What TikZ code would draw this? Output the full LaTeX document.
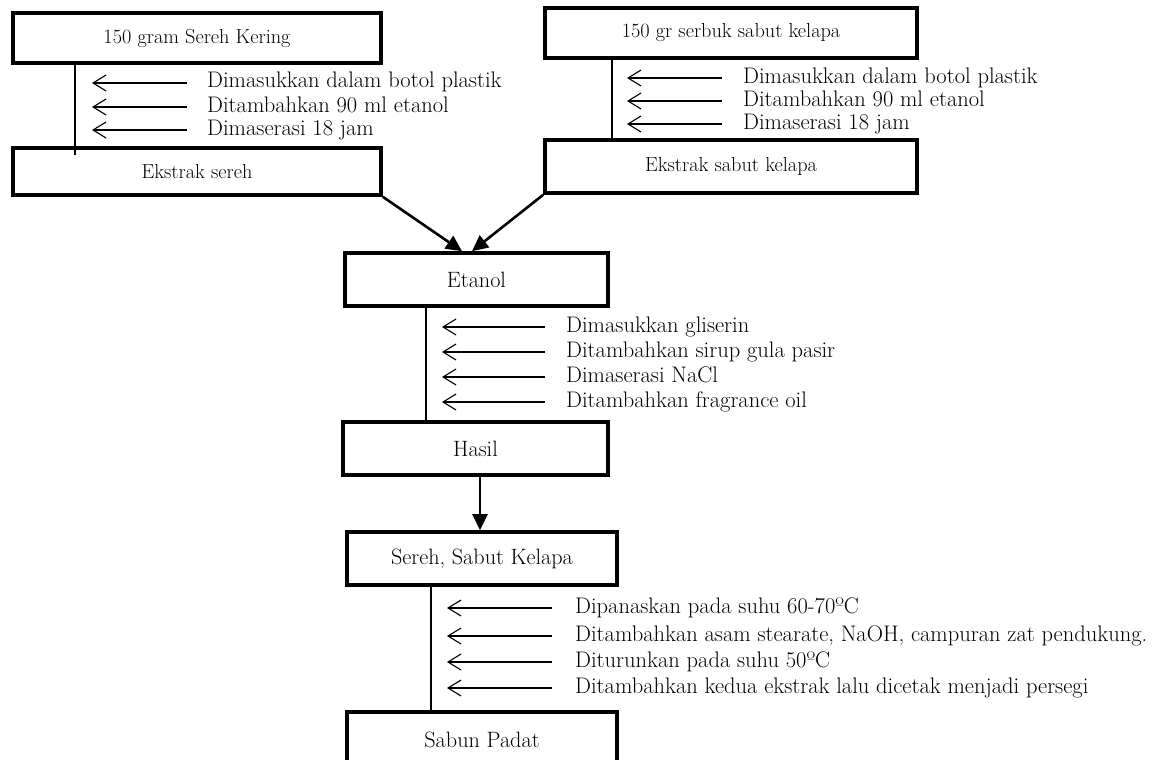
\documentclass[tikz,border=0pt]{standalone}
\usetikzlibrary{arrows.meta}
\begin{document}
\begin{tikzpicture}[x=1pt,y=-1pt,
  box/.style={draw, line width=3.6pt, rectangle, inner sep=0pt, font=\fontsize{20.3}{24}\selectfont},
  boxb/.style={box, font=\fontsize{22.2}{26}\selectfont},
  thinline/.style={line width=1.1pt},
  stepnote/.style={anchor=base west, inner sep=0pt, font=\fontsize{22.5}{26}\selectfont},
  addarrow/.style={line width=1.1pt, -{Straight Barb[length=13pt,width=16pt,line width=1.1pt]}},
  flow/.style={line width=2.6pt, -{Triangle[length=16pt,width=15pt]}}
]
\useasboundingbox (0,0) rectangle (1159,760);
\fill[white] (0,0) rectangle (1159,760);
\clip (0,0) rectangle (1159,760);

% ---------- left branch ----------
\node[box, minimum width=368pt, minimum height=50pt] (b1) at (197,38) {150 gram Sereh Kering};
\node[box, minimum width=368pt, minimum height=47pt] (b2) at (197,171.5) {Ekstrak sereh};
\coordinate (vl1) at (75,155);
\draw[thinline] (b1.south -| vl1) -- (vl1);
\foreach \n/\yy/\t in {1/83/Dimasukkan dalam botol plastik, 2/107/Ditambahkan 90 ml etanol, 3/130/Dimaserasi 18 jam}{
  \coordinate (la\n s) at (187,\yy);
  \coordinate (la\n e) at (92,\yy);
  \draw[addarrow] (la\n s) -- (la\n e);
  \node[stepnote] (lt\n) at (207,\yy+5) {\t};
}

% ---------- right branch ----------
\node[box, minimum width=372pt, minimum height=50pt] (b3) at (731,33) {150 gr serbuk sabut kelapa};
\node[box, minimum width=372pt, minimum height=53pt] (b4) at (731,166.5) {Ekstrak sabut kelapa};
\coordinate (vl2) at (612,0);
\draw[thinline] (b3.south -| vl2) -- (b4.north -| vl2);
\foreach \n/\yy/\t in {1/78/Dimasukkan dalam botol plastik, 2/101/Ditambahkan 90 ml etanol, 3/124/Dimaserasi 18 jam}{
  \coordinate (ra\n s) at (722,\yy);
  \coordinate (ra\n e) at (627,\yy);
  \draw[addarrow] (ra\n s) -- (ra\n e);
  \node[stepnote] (rt\n) at (743,\yy+5) {\t};
}

% ---------- Etanol ----------
\node[boxb, minimum width=263pt, minimum height=53pt] (etn) at (476.5,279.5) {Etanol};
\draw[flow] (b2.south east) -- ([xshift=-14.5pt]etn.north);
\draw[flow] (b4.south west) -- ([xshift=-4.5pt]etn.north);

\node[boxb, minimum width=265pt, minimum height=53pt] (hsl) at (475.5,448.5) {Hasil};
\coordinate (vl3) at (426,0);
\draw[thinline] (etn.south -| vl3) -- (hsl.north -| vl3);
\foreach \n/\yy/\t in {1/327/Dimasukkan gliserin, 2/352/Ditambahkan sirup gula pasir, 3/377/Dimaserasi NaCl, 4/402/Ditambahkan fragrance oil}{
  \coordinate (ea\n s) at (545,\yy);
  \coordinate (ea\n e) at (442,\yy);
  \draw[addarrow] (ea\n s) -- (ea\n e);
  \node[stepnote] (et\n) at (566,\yy+5) {\t};
}

% ---------- Sereh, Sabut Kelapa ----------
\node[boxb, minimum width=270pt, minimum height=53pt] (srh) at (482,558.5) {Sereh, Sabut Kelapa};
\draw[flow] ([xshift=4.5pt]hsl.south) -- ([xshift=-2pt]srh.north);

\node[boxb, minimum width=270pt, minimum height=56pt] (sbn) at (482,740) {Sabun Padat};
\coordinate (vl4) at (431,0);
\draw[thinline] (srh.south -| vl4) -- (sbn.north -| vl4);
\foreach \n/\yy/\t in {1/608/Dipanaskan pada suhu 60-70ºC, 2/636/{Ditambahkan asam stearate, NaOH, campuran zat pendukung.}, 3/662/Diturunkan pada suhu 50ºC, 4/688/Ditambahkan kedua ekstrak lalu dicetak menjadi persegi}{
  \coordinate (sa\n s) at (552,\yy);
  \coordinate (sa\n e) at (447,\yy);
  \draw[addarrow] (sa\n s) -- (sa\n e);
  \node[stepnote] (st\n) at (575,\yy+5) {\t};
}
\end{tikzpicture}
\end{document}
